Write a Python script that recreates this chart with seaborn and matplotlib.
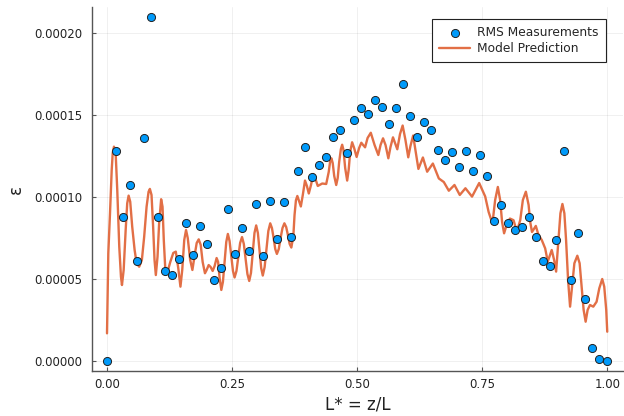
import matplotlib
matplotlib.use("Agg")
import matplotlib.pyplot as plt
from matplotlib.ticker import FormatStrFormatter
import seaborn as sns
import pandas as pd

# RMS measurements (x = L* = z/L, y = epsilon in units of 1e-5)
meas_x = [0.0, 0.017, 0.031, 0.045, 0.060, 0.073, 0.087, 0.102, 0.116, 0.129,
          0.143, 0.157, 0.171, 0.185, 0.199, 0.214, 0.227, 0.241, 0.256, 0.270,
          0.284, 0.297, 0.311, 0.325, 0.339, 0.353, 0.368, 0.382, 0.395, 0.409,
          0.424, 0.437, 0.452, 0.466, 0.480, 0.493, 0.507, 0.521, 0.535, 0.549,
          0.563, 0.577, 0.592, 0.606, 0.620, 0.634, 0.648, 0.661, 0.676, 0.689,
          0.703, 0.717, 0.731, 0.746, 0.760, 0.774, 0.788, 0.801, 0.816, 0.829,
          0.843, 0.857, 0.872, 0.885, 0.898, 0.913, 0.927, 0.942, 0.955, 0.970,
          0.984, 1.0]
meas_y = [0.00, 12.81, 8.79, 10.73, 6.11, 13.60, 20.97, 8.76, 5.48, 5.23,
          6.19, 8.41, 6.45, 8.23, 7.15, 4.91, 5.64, 9.28, 6.52, 8.09,
          6.70, 9.57, 6.41, 9.75, 7.41, 9.71, 7.55, 11.58, 13.07, 11.24,
          11.95, 12.42, 13.64, 14.07, 12.67, 14.68, 15.43, 15.08, 15.94, 15.47,
          14.46, 15.43, 16.88, 14.94, 13.64, 14.60, 14.11, 12.87, 12.27, 12.75,
          11.81, 12.81, 11.57, 12.58, 11.26, 8.53, 9.53, 8.43, 8.00, 8.15,
          8.79, 7.55, 6.11, 5.76, 7.39, 12.81, 4.91, 7.78, 3.79, 0.79,
          0.09, 0.00]
meas_y = [v * 1e-5 for v in meas_y]

# Model prediction curve (traced, y in units of 1e-5)
model_x = [
    0.000, 0.0026, 0.0060, 0.0094, 0.0114, 0.0139, 0.0173, 0.0205, 0.0245, 0.0279,
    0.0299, 0.0333, 0.0373, 0.0404, 0.0432, 0.0464, 0.0504, 0.0552, 0.0592, 0.0643,
    0.0697, 0.0743, 0.0791, 0.0831, 0.0857, 0.0890, 0.0922, 0.0950, 0.0976, 0.1010,
    0.1042, 0.1082, 0.1110, 0.1135, 0.1169, 0.1215, 0.1265, 0.1325, 0.1375, 0.1424,
    0.1468, 0.1504, 0.1544, 0.1580, 0.1614, 0.1663, 0.1707, 0.1753, 0.1793, 0.1833,
    0.1873, 0.1912, 0.1958, 0.1992, 0.2032, 0.2072, 0.2112, 0.2151, 0.2191, 0.2221,
    0.2251, 0.2285, 0.2317, 0.2351, 0.2384, 0.2416, 0.2450, 0.2484, 0.2518, 0.2550,
    0.2588, 0.2625, 0.2661, 0.2699, 0.2735, 0.2771, 0.2807, 0.2843, 0.2878, 0.2912,
    0.2948, 0.2982, 0.3016, 0.3048, 0.3082, 0.3114, 0.3151, 0.3187, 0.3225, 0.3263,
    0.3297, 0.3331, 0.3363, 0.3396, 0.3434, 0.3470, 0.3508, 0.3546, 0.3582, 0.3616,
    0.3651, 0.3685, 0.3725, 0.3749, 0.3777, 0.3805, 0.3839, 0.3875, 0.3914, 0.3958,
    0.3996, 0.4034, 0.4078, 0.4124, 0.4167, 0.4213, 0.4303, 0.4382, 0.4432, 0.4462,
    0.4486, 0.4512, 0.4542, 0.4582, 0.4612, 0.4641, 0.4675, 0.4701, 0.4727, 0.4761,
    0.4801, 0.4831, 0.4861, 0.4900, 0.4940, 0.4990, 0.5040, 0.5084, 0.5120, 0.5159,
    0.5209, 0.5273, 0.5349, 0.5424, 0.5468, 0.5518, 0.5568, 0.5624, 0.5667, 0.5717,
    0.5757, 0.5803, 0.5857, 0.5910, 0.5966, 0.6022, 0.6066, 0.6120, 0.6165, 0.6225,
    0.6315, 0.6400, 0.6514, 0.6633, 0.6733, 0.6833, 0.6946, 0.7052, 0.7165, 0.7297,
    0.7440, 0.7560, 0.7629, 0.7705, 0.7759, 0.7813, 0.7859, 0.7898, 0.7938, 0.7988,
    0.8054, 0.8127, 0.8193, 0.8261, 0.8313, 0.8373, 0.8428, 0.8460, 0.8496, 0.8572,
    0.8625, 0.8691, 0.8759, 0.8811, 0.8890, 0.8938, 0.8978, 0.9024, 0.9064, 0.9104,
    0.9143, 0.9177, 0.9217, 0.9257, 0.9297, 0.9343, 0.9402, 0.9448, 0.9488, 0.9528,
    0.9568, 0.9608, 0.9655, 0.9721, 0.9787, 0.9841, 0.9900, 0.9940, 0.9980, 1.000]
model_y = [
    1.67, 6.56, 9.00, 11.65, 12.67, 13.07, 12.67, 10.42, 6.96, 5.13,
    4.62, 5.54, 7.98, 9.61, 10.08, 9.71, 8.18, 6.76, 5.95, 5.74,
    6.15, 7.57, 9.40, 10.32, 10.49, 10.12, 8.18, 6.15, 5.23, 6.35,
    8.39, 9.86, 9.40, 7.37, 5.37, 5.48, 6.03, 6.58, 6.66, 5.66,
    4.52, 5.54, 7.37, 7.98, 7.49, 6.15, 5.54, 6.45, 7.19, 7.41,
    7.07, 6.03, 5.34, 5.54, 5.84, 5.72, 5.48, 5.78, 6.27, 6.03,
    5.05, 4.32, 4.81, 6.03, 7.25, 7.74, 7.31, 6.39, 5.48, 5.08,
    5.48, 6.33, 7.19, 7.55, 7.13, 6.21, 5.29, 4.87, 5.36, 6.58,
    7.80, 8.26, 7.80, 6.76, 5.66, 5.20, 5.72, 6.82, 7.92, 8.39,
    8.10, 7.49, 6.82, 6.52, 6.82, 7.49, 8.10, 8.39, 8.16, 7.68,
    7.13, 6.91, 7.62, 8.90, 9.80, 10.06, 9.75, 9.42, 10.12, 11.00,
    10.67, 10.21, 10.73, 11.40, 11.10, 10.67, 10.82, 10.79, 11.52, 12.20,
    12.36, 12.07, 11.28, 10.73, 11.16, 12.13, 12.92, 13.19, 12.87, 11.77,
    11.00, 11.65, 12.75, 13.34, 12.99, 12.44, 12.99, 13.31, 13.17, 13.03,
    13.60, 13.92, 13.17, 12.56, 13.17, 13.58, 13.17, 12.36, 13.05, 13.64,
    13.30, 12.91, 13.84, 14.36, 13.48, 12.42, 13.11, 13.75, 12.87, 11.71,
    12.41, 11.54, 12.04, 11.13, 10.91, 10.38, 10.73, 10.12, 10.53, 10.02,
    10.85, 10.03, 9.08, 8.38, 9.81, 10.61, 9.81, 8.47, 7.78, 8.29,
    8.68, 8.58, 7.88, 8.59, 9.81, 10.32, 9.51, 8.47, 7.86, 8.23,
    7.68, 7.37, 6.86, 6.05, 6.76, 6.15, 5.44, 7.37, 9.00, 9.57,
    9.00, 7.37, 4.93, 3.30, 4.52, 5.95, 6.41, 5.95, 4.52, 3.10,
    2.38, 3.10, 3.40, 3.30, 3.60, 4.42, 4.99, 4.52, 3.10, 1.77]
model_y = [v * 1e-5 for v in model_y]

x_ticks = [0.00, 0.25, 0.50, 0.75, 1.00]
y_ticks = [0.0, 0.00005, 0.00010, 0.00015, 0.00020]

sns.set_style("white")
plt.rcParams["font.family"] = ["DejaVu Sans"]

fig = plt.figure(figsize=(6.24, 4.16), dpi=100)
ax = fig.add_axes([92 / 624, 1 - 371 / 416, (623 - 92) / 624, (371 - 7) / 416])

df_m = pd.DataFrame({"x": model_x, "y": model_y})
df_s = pd.DataFrame({"x": meas_x, "y": meas_y})

sns.lineplot(data=df_m, x="x", y="y", ax=ax, color="#E26F46", linewidth=1.7,
             estimator=None, sort=False, label="Model Prediction", zorder=2,
             solid_joinstyle="round", solid_capstyle="round")
sns.scatterplot(data=df_s, x="x", y="y", ax=ax, color="#009AFA", s=34,
                edgecolor="#222222", linewidth=0.7, label="RMS Measurements", zorder=3)

ax.set_xlim(-0.03, 1.0315)
ax.set_ylim(-0.63e-5, 21.60e-5)
ax.set_xticks(x_ticks)
ax.set_yticks(y_ticks)
ax.xaxis.set_major_formatter(FormatStrFormatter("%.2f"))
ax.yaxis.set_major_formatter(FormatStrFormatter("%.5f"))
ax.grid(True, color="#000000", alpha=0.07, linewidth=0.6)
for s in ["top", "right"]:
    ax.spines[s].set_visible(False)
for s in ["left", "bottom"]:
    ax.spines[s].set_color("#555555")
    ax.spines[s].set_linewidth(1.0)
ax.tick_params(direction="in", length=3, width=0.8, color="#555555",
               labelsize=8.5, labelcolor="#222222", left=True, bottom=True)
ax.tick_params(axis="y", pad=7)
ax.tick_params(axis="x", pad=5)
ax.set_xlabel("L* = z/L", fontsize=12, color="#222222", labelpad=3)
ax.set_ylabel("ε", fontsize=12, color="#222222", labelpad=7)

handles, labels = ax.get_legend_handles_labels()
order = [labels.index("RMS Measurements"), labels.index("Model Prediction")]
leg = ax.legend([handles[i] for i in order], [labels[i] for i in order],
                loc="upper right", bbox_to_anchor=(0.968, 0.967), fontsize=8.8,
                frameon=True, fancybox=False, edgecolor="#222222",
                framealpha=1.0, borderpad=0.6, labelspacing=0.22,
                handlelength=2.5, handletextpad=0.6, borderaxespad=0.0)
leg.get_frame().set_linewidth(0.8)

fig.savefig("out.png", dpi=100)
